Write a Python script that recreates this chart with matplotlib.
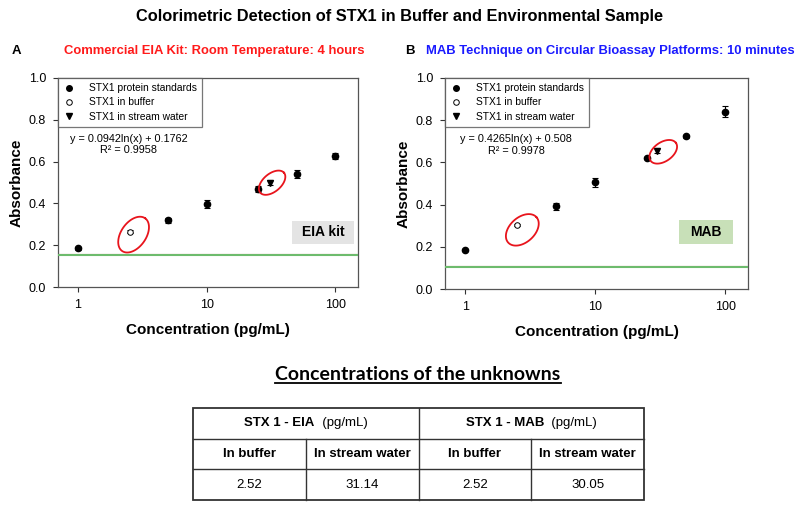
import numpy as np
import matplotlib
matplotlib.use("Agg")
import matplotlib.pyplot as plt
from matplotlib.patches import Rectangle
from matplotlib.lines import Line2D

plt.rcParams['font.family'] = ['Liberation Sans', 'DejaVu Sans']

# standards
conc_std = [1, 5, 10, 25, 50, 100]
eia_std = [0.186, 0.320, 0.397, 0.470, 0.541, 0.626]
eia_err = [0.007, 0.012, 0.018, 0.015, 0.018, 0.015]
mab_std = [0.183, 0.391, 0.505, 0.619, 0.724, 0.841]
mab_err = [0.005, 0.016, 0.020, 0.005, 0.007, 0.024]

# unknowns (buffer, stream water)
eia_unk_conc = [2.52, 31.14]
eia_unk_abs = [0.265, 0.499]
eia_unk_err = [0.008, 0.012]
mab_unk_conc = [2.52, 30.05]
mab_unk_abs = [0.304, 0.655]
mab_unk_err = [0.005, 0.012]

eia_blank = 0.151
mab_blank = 0.102

eqs = [("y = 0.0942ln(x) + 0.1762", "R² = 0.9958"),
       ("y = 0.4265ln(x) + 0.508", "R² = 0.9978")]

table_head = ["STX 1 - EIA", "STX 1 - MAB"]
table_sub = ["In buffer", "In stream water", "In buffer", "In stream water"]
table_vals = ["2.52", "31.14", "2.52", "30.05"]

W, H = 800, 509
fig = plt.figure(figsize=(8, 5.09), dpi=100)

fig.text(0.5, 1 - 17 / H, "Colorimetric Detection of STX1 in Buffer and Environmental Sample",
         ha='center', va='center', fontsize=11.8, fontweight='bold')
fig.text(12 / W, 1 - 51 / H, "A", ha='left', va='center', fontsize=9.5, fontweight='bold')
fig.text(214 / W, 1 - 51 / H, "Commercial EIA Kit: Room Temperature: 4 hours",
         ha='center', va='center', fontsize=9.4, fontweight='bold', color='#ff1a1a')
fig.text(405 / W, 1 - 51 / H, "B", ha='left', va='center', fontsize=9.5, fontweight='bold')
fig.text(610 / W, 1 - 51 / H, "MAB Technique on Circular Bioassay Platforms: 10 minutes",
         ha='center', va='center', fontsize=9.4, fontweight='bold', color='#1a1aff')

axA = fig.add_axes([58 / W, 1 - 287 / H, 300 / W, 209 / H])
axB = fig.add_axes([445 / W, 1 - 289 / H, 303 / W, 211 / H])


def draw_ellipse(ax, xi, yi, dx, dy, w, h, ang):
    # ellipse sized in pixels around a data point, offset in pixels
    base = ax.transData.transform((xi, yi))
    th = np.linspace(0, 2 * np.pi, 120)
    ex = np.cos(th) * w / 2
    ey = np.sin(th) * h / 2
    a = np.deg2rad(ang)
    px = base[0] + dx + ex * np.cos(a) - ey * np.sin(a)
    py = base[1] - dy + ex * np.sin(a) + ey * np.cos(a)
    dat = ax.transData.inverted().transform(np.column_stack([px, py]))
    ax.plot(dat[:, 0], dat[:, 1], color='#e8141c', lw=1.3, zorder=5, clip_on=False)


def panel(ax, std, err, uconc, uabs, uerr, blank, eq, boxtxt, boxrect, boxcol, ells):
    ax.errorbar(conc_std, std, yerr=err, fmt='o', color='black', ms=4.5, capsize=2.5, elinewidth=0.8,
                capthick=0.8, zorder=4)
    ax.errorbar(uconc[:1], uabs[:1], yerr=uerr[:1], fmt='o', mfc='white', mec='black', color='black',
                ms=4, mew=0.7, capsize=2, elinewidth=0.7, zorder=4)
    ax.errorbar(uconc[1:], uabs[1:], yerr=uerr[1:], fmt='v', color='black', ms=5, capsize=2.5,
                elinewidth=0.8, capthick=0.8, zorder=4)
    ax.axhline(blank + 0.009, color='#e06060', lw=0.8, zorder=2)
    ax.axhline(blank, color='#6dbb6d', lw=1.5, zorder=3)
    ax.set_xscale('log')
    ax.set_xlim(0.7, 150)
    ax.set_ylim(0, 1.0)
    ax.set_xticks([1, 10, 100])
    ax.set_xticklabels(['1', '10', '100'])
    ax.xaxis.set_minor_locator(matplotlib.ticker.NullLocator())
    yt = np.arange(0, 1.01, 0.2)
    ax.set_yticks(yt)
    ax.set_yticklabels(['%.1f' % v for v in yt])
    ax.tick_params(direction='out', length=3.5, width=0.8, labelsize=9, color='#333333', pad=5)
    for s in ax.spines.values():
        s.set_color('#555555')
        s.set_linewidth(0.9)
    ax.set_ylabel("Absorbance", fontsize=11, fontweight='bold', labelpad=4)
    ax.set_xlabel("Concentration (pg/mL)", fontsize=11, fontweight='bold', labelpad=9)

    h = [Line2D([], [], marker='o', ls='', color='black', ms=4),
         Line2D([], [], marker='o', ls='', mfc='white', mec='black', ms=4, mew=0.7),
         Line2D([], [], marker='v', ls='', color='black', ms=4.5)]
    leg = ax.legend(h, ["STX1 protein standards", "STX1 in buffer", "STX1 in stream water"],
                    loc='upper left', borderaxespad=0, fancybox=False, fontsize=7.4, handlelength=1.2,
                    handletextpad=1.3, labelspacing=0.42, borderpad=0.5)
    leg.get_frame().set_edgecolor('#555555')
    leg.get_frame().set_linewidth(0.9)

    ax.text(0.235, 0.71, eq[0], transform=ax.transAxes, ha='center', va='center', fontsize=7.8)
    ax.text(0.235, 0.655, eq[1], transform=ax.transAxes, ha='center', va='center', fontsize=7.8)

    x0, x1, y0, y1 = boxrect
    ax.add_patch(Rectangle((x0, y0), x1 - x0, y1 - y0, transform=ax.transAxes, fc=boxcol, ec='none',
                           zorder=1))
    ax.text((x0 + x1) / 2, (y0 + y1) / 2, boxtxt, transform=ax.transAxes, ha='center', va='center',
            fontsize=10, fontweight='bold', zorder=2)

    for xi, yi, e in zip(uconc, uabs, ells):
        draw_ellipse(ax, xi, yi, *e)


fig.canvas.draw()
panel(axA, eia_std, eia_err, eia_unk_conc, eia_unk_abs, eia_unk_err, eia_blank, eqs[0],
      "EIA kit", (0.78, 0.987, 0.206, 0.316), '#e4e4e4', [(4, 3, 40, 25, 55), (2, 0, 31, 18, 40)])
panel(axB, mab_std, mab_err, mab_unk_conc, mab_unk_abs, mab_unk_err, mab_blank, eqs[1],
      "MAB", (0.772, 0.950, 0.213, 0.327), '#c8e0b8', [(5, 5, 38, 25, 42), (6, 1, 31, 19, 35)])

# table of unknowns
tit = fig.text(418 / W, 1 - 375 / H, "Concentrations of the unknowns", ha='center', va='center',
               fontsize=14, fontweight='bold', family=['Lato', 'Open Sans', 'DejaVu Sans'])
fig.canvas.draw()
bb = tit.get_window_extent()
fig.add_artist(Line2D([bb.x0 / W, bb.x1 / W], [(bb.y0 + 0.5) / H, (bb.y0 + 0.5) / H],
                      color='black', lw=1.3, transform=fig.transFigure))

tax = fig.add_axes([193 / W, 1 - 500 / H, 451 / W, 92 / H])
tax.set_xlim(0, 4)
tax.set_ylim(0, 3)
tax.axis('off')
lc = '#333333'
tax.add_patch(Rectangle((0, 0), 4, 3, fill=False, ec=lc, lw=1.3, clip_on=False))
tax.plot([0, 4], [1, 1], color=lc, lw=1.0, clip_on=False)
tax.plot([0, 4], [2, 2], color=lc, lw=1.0, clip_on=False)
tax.plot([2, 2], [0, 3], color=lc, lw=1.0, clip_on=False)
tax.plot([1, 1], [0, 2], color=lc, lw=1.0, clip_on=False)
tax.plot([3, 3], [0, 2], color=lc, lw=1.0, clip_on=False)

# header: bold name followed by plain unit, centred together
r = fig.canvas.get_renderer()
for i, hd in enumerate(table_head):
    t1 = tax.text(0, 0, hd, fontsize=9.5, fontweight='bold')
    t2 = tax.text(0, 0, "  (pg/mL)", fontsize=9.5)
    w1 = t1.get_window_extent(r).width
    w2 = t2.get_window_extent(r).width
    t1.remove()
    t2.remove()
    cx = tax.transData.transform((2 * i + 1, 2.5))
    left = cx[0] - (w1 + w2) / 2
    xa = tax.transData.inverted().transform((left, cx[1]))[0]
    xb = tax.transData.inverted().transform((left + w1, cx[1]))[0]
    tax.text(xa, 2.5, hd, ha='left', va='center', fontsize=9.5, fontweight='bold')
    tax.text(xb, 2.5, "  (pg/mL)", ha='left', va='center', fontsize=9.5)
for i, s in enumerate(table_sub):
    tax.text(i + 0.5, 1.5, s, ha='center', va='center', fontsize=9.5, fontweight='bold')
for i, v in enumerate(table_vals):
    tax.text(i + 0.5, 0.5, v, ha='center', va='center', fontsize=9.5)

fig.savefig("out.png", dpi=100)
